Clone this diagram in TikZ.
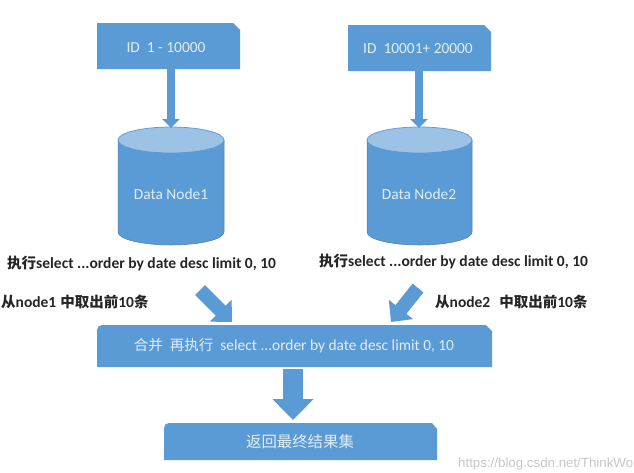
\documentclass[tikz,border=0pt]{standalone}
\usepackage{fontspec}
\setmainfont{Carlito}
\newfontfamily\cjk{Noto Sans CJK SC}
\newfontfamily\cjkb{Noto Sans CJK SC Bold}
\newfontfamily\wm{Liberation Sans}
\usetikzlibrary{arrows.meta,shapes.geometric}
\definecolor{boxblue}{HTML}{5B9BD5}
\definecolor{edgeblue}{HTML}{5A98D2}
\definecolor{capblue}{HTML}{9CC2E5}
\newcommand{\zh}[1]{{\cjk\fontsize{14.5}{16}\selectfont #1}}
\newcommand{\zb}[1]{{\cjkb\fontsize{14.5}{16}\selectfont #1}}
\tikzset{
  x=1pt,y=-1pt,
  blocklabel/.style={text=white!82!boxblue,font=\fontsize{15.4}{17}\selectfont,inner sep=0,anchor=center},
  noteb/.style={text=black!85,font=\bfseries\fontsize{15.5}{17}\selectfont,inner sep=0,anchor=west},
  smallarrow/.style={draw=boxblue,line width=8pt,-{Triangle[length=9pt,width=17pt]}},
  midarrow/.style={draw=boxblue,line width=14pt,-{Triangle[length=16pt,width=30pt]}},
  bigarrow/.style={draw=boxblue,line width=20pt,-{Triangle[length=21pt,width=40pt]}},
  block/.style={fill=boxblue,draw=none},
  cylside/.style={fill=boxblue,draw=edgeblue!80!black,line width=.5pt},
  cyltop/.style={fill=capblue,draw=edgeblue,line width=.7pt},
}
\begin{document}
\begin{tikzpicture}
\useasboundingbox (0,0) rectangle (634,472);
% boxes
\fill[block] (97,23) -- (233,23) -- (240,30) -- (240,69) -- (97,69) -- cycle;
\fill[block] (348,25) -- (484,25) -- (491,32) -- (491,71) -- (348,71) -- cycle;
\fill[block] (102,325) -- (486,325) -- (492,331) -- (492,367) -- (97,367) -- (97,330) to[out=90,in=180] cycle;
\fill[block] (169,423) -- (432,423) -- (437,429) -- (437,460) -- (164,460) -- (164,428) to[out=90,in=180] cycle;
% cylinders
\path[cylside] (118,140) -- (118,232) arc[start angle=180,end angle=0,x radius=53,y radius=13] -- (224,140) -- cycle;
\path[cyltop] (171,140) ellipse[x radius=53,y radius=13];
\path[cylside] (367,140) -- (367,232) arc[start angle=180,end angle=0,x radius=52.5,y radius=13] -- (472,140) -- cycle;
\path[cyltop] (419.5,140) ellipse[x radius=52.5,y radius=13];
% anchors
\coordinate (a1s) at (171,69); \coordinate (a1e) at (171,128);
\coordinate (a2s) at (419,71); \coordinate (a2e) at (419,128);
\coordinate (d1s) at (200,290); \coordinate (d1e) at (232,322);
\coordinate (d2s) at (418,288); \coordinate (d2e) at (391,322);
\coordinate (bs) at (293,369); \coordinate (be) at (293,420);
\draw[smallarrow] (a1s) -- (a1e);
\draw[smallarrow] (a2s) -- (a2e);
\draw[midarrow] (d1s) -- (d1e);
\draw[midarrow] (d2s) -- (d2e);
\draw[bigarrow] (bs) -- (be);
% labels
\node[blocklabel] (t1) at (166,48) {ID\hspace{7pt}1 - 10000};
\node[blocklabel] (t2) at (418,49) {ID\hspace{7pt}10001+ 20000};
\node[blocklabel] (t3) at (171,194) {Data Node1};
\node[blocklabel] (t4) at (419,194) {Data Node2};
\node[blocklabel] (t5) at (294,346) {\zh{合并}\hspace{7pt}\zh{再执行}\hspace{7pt}select ...order by date desc limit 0, 10};
\node[blocklabel] (t6) at (300,442) {{\cjk 返回最终结果集}};
\node[noteb] (n1) at (7,264) {\zb{执行}select ...order by date desc limit 0, 10};
\node[noteb] (n2) at (319,262) {\zb{执行}select ...order by date desc limit 0, 10};
\node[noteb] (n3) at (1,302) {\zb{从}node1\hspace{4pt}\zb{中取出前}10\zb{条}};
\node[noteb] (n4) at (435,302) {\zb{从}node2\hspace{9pt}\zb{中取出前}10\zb{条}};
\begin{scope}
\clip (0,0) rectangle (634,472);
\node[text=black!22,font=\wm\fontsize{13.3}{15}\selectfont,inner sep=0,anchor=west] (wm) at (458,464) {https://blog.csdn.net/ThinkWo};
\end{scope}
\end{tikzpicture}
\end{document}
